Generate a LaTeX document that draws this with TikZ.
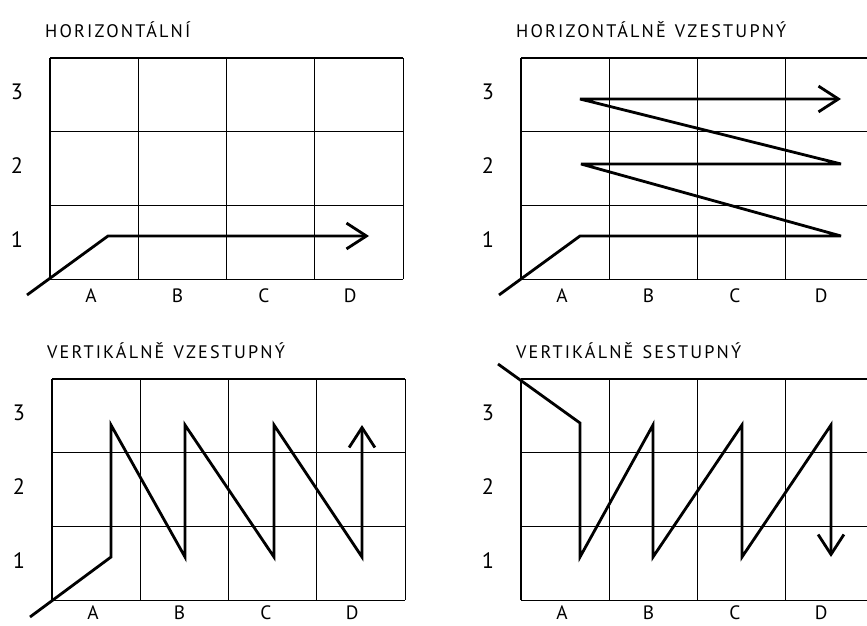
\documentclass[tikz,border=0pt]{standalone}
\usepackage{fontspec}
\setmainfont{PT Sans}[LetterSpace=12]
\usetikzlibrary{arrows.meta}

\begin{document}
\begin{tikzpicture}[x=0.03cm, y=-0.03cm,
  cell/.style={draw=black, line width=1pt},
  route/.style={draw=black, line width=2.4pt, miter limit=5},
  go/.style={route, -{Straight Barb[length=17pt, width=22pt]}},
  ttl/.style={anchor=west, inner sep=0pt, font=\fontsize{15.5}{18}\selectfont},
  rowlab/.style={inner sep=0pt, text depth=0pt, font=\fontsize{19}{22}\selectfont},
  collab/.style={inner sep=0pt, text depth=0pt, font=\fontsize{16.5}{19}\selectfont}]
\clip (0,0) rectangle (867,626);
% the four grids with their labels
\foreach \px/\py/\ly/\ttl/\pn in {50/58/238/{HORIZONTÁLNÍ}/hor,
    521/58/238/{HORIZONTÁLNĚ\enspace VZESTUPNÝ}/hup,
    52/379/234/{VERTIKÁLNĚ\enspace VZESTUPNÝ}/vup,
    521/379/234/{VERTIKÁLNĚ\enspace SESTUPNÝ}/vdn}{
  \begin{scope}[shift={(\px,\py)}]
    \foreach \i in {0,...,4} \draw[cell] (\i*88.3,0) -- (\i*88.3,221.1);
    \foreach \j in {0,...,3} \draw[cell] (0,\j*73.7) -- (353.2,\j*73.7);
    \node[ttl] (\pn-title) at (-5,-28) {\ttl};
    \foreach \r/\l in {1/3,2/2,3/1} \node[rowlab] (\pn-r\l) at (-33,\r*73.7-39.5) {\l};
    \foreach \c [count=\k from 0] in {A,B,C,D} \node[collab] (\pn-\c) at (41+\k*86.4,\ly) {\c};
  \end{scope}
}
% routes
\begin{scope}[shift={(50,58)}]
  \draw[go] (-23,237) -- (58,178) -- (319,178);
\end{scope}
\begin{scope}[shift={(521,58)}]
  \draw[go] (-22,237) -- (59,178) -- (320,178) -- (60,106) -- (320,106) -- (59,41) -- (320,41);
\end{scope}
\begin{scope}[shift={(52,379)}]
  \draw[go] (-22,238) -- (59,178) -- (59,46) -- (133,178) -- (133,46) -- (222,178)
    -- (222,46) -- (310,178) -- (310,46);
\end{scope}
\begin{scope}[shift={(521,379)}]
  \draw[go] (-23,-15) -- (59,44) -- (59,178) -- (132,46) -- (132,178) -- (221,46)
    -- (221,178) -- (310,46) -- (310,178);
\end{scope}
\end{tikzpicture}
\end{document}
